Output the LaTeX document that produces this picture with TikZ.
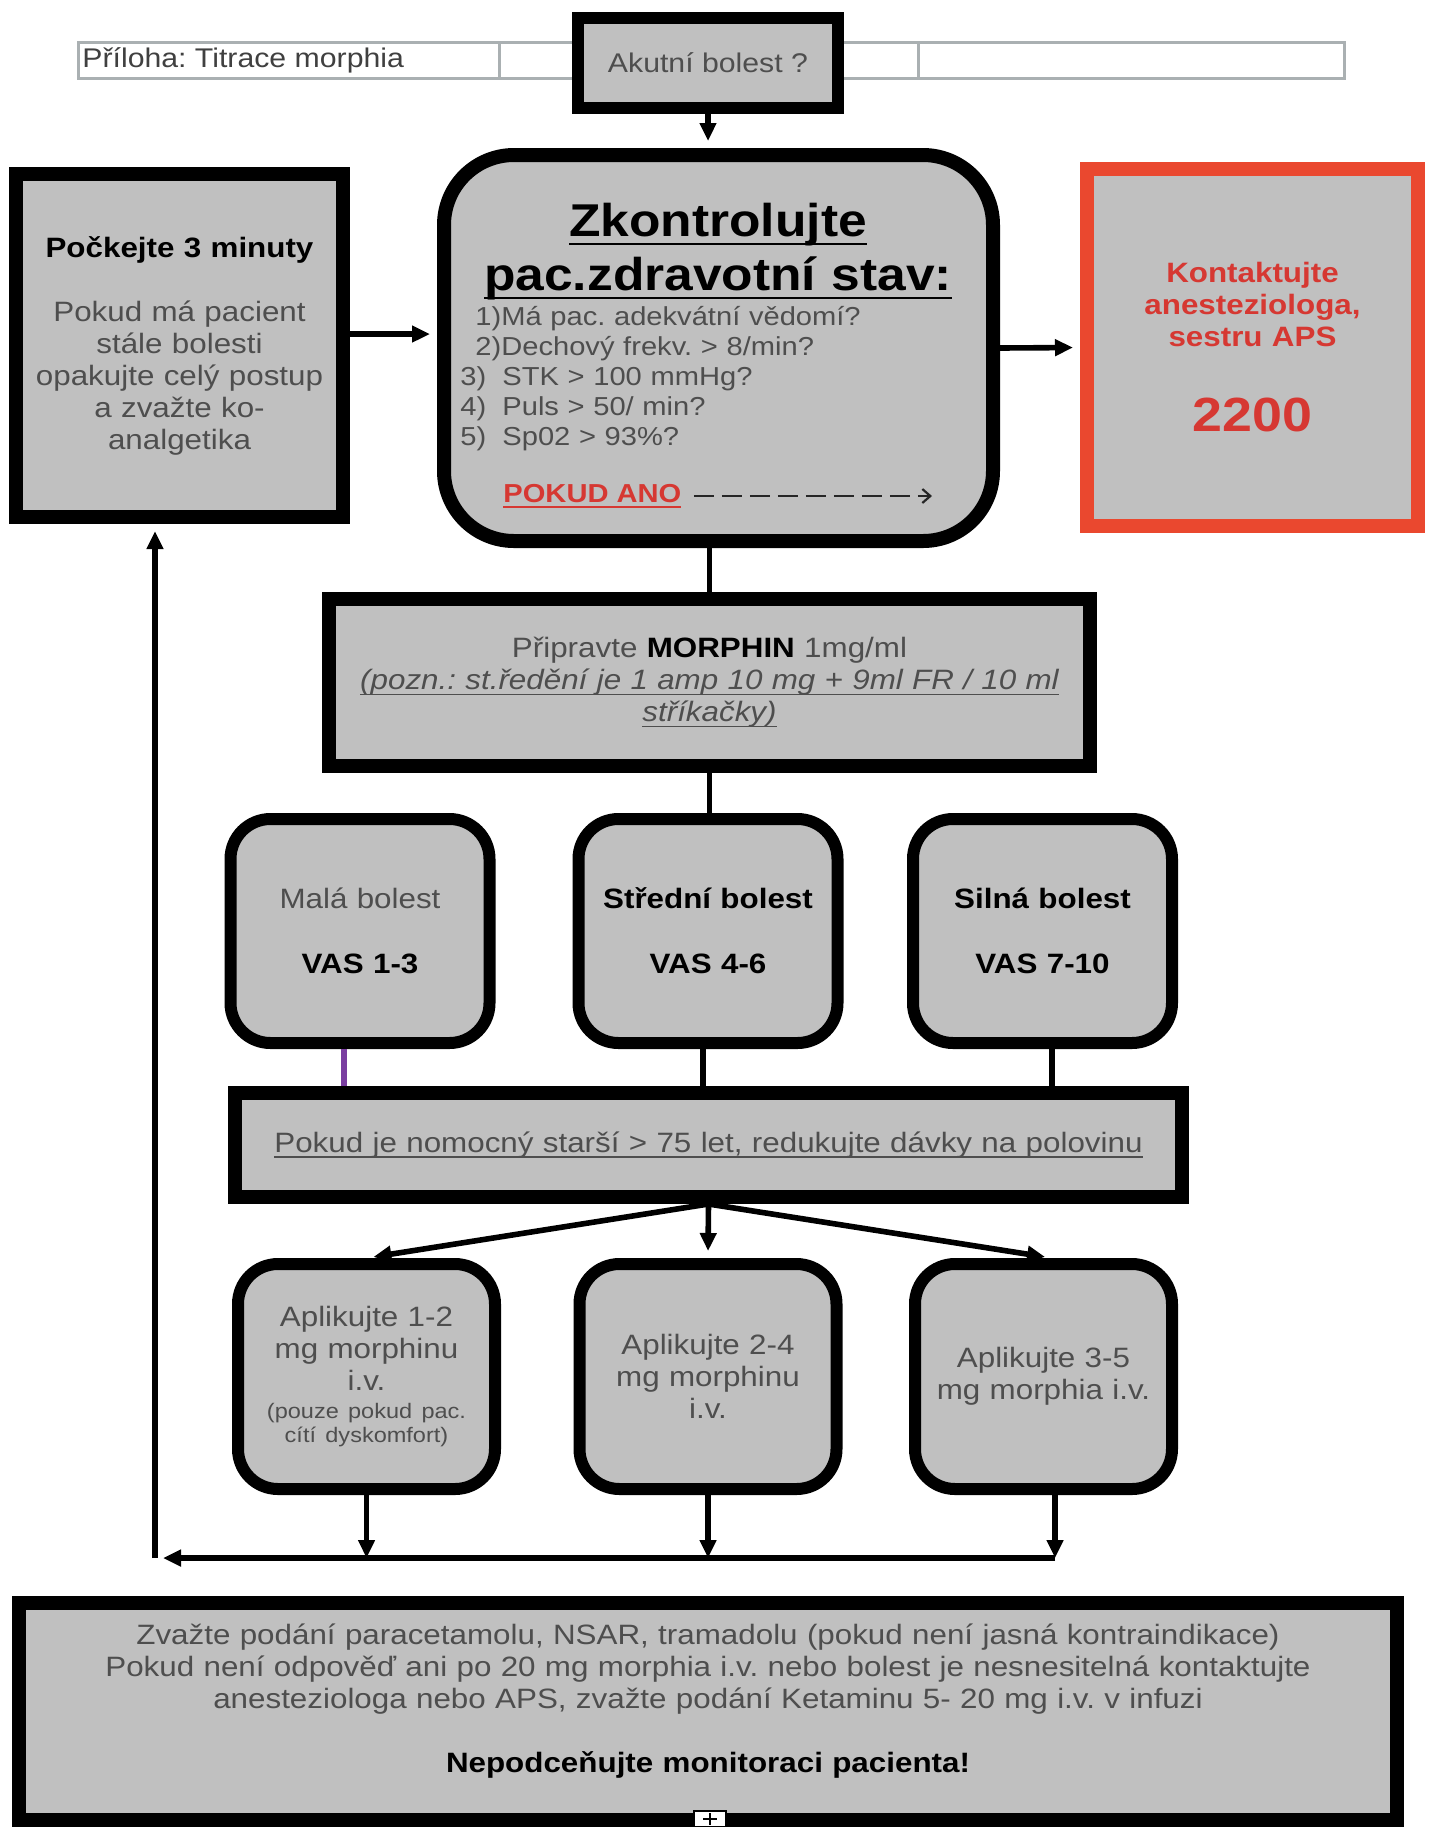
\documentclass[tikz,border=0pt]{standalone}
\usepackage{fontspec}
\setmainfont{Liberation Sans}[FakeStretch=1.12]
\usepackage{tikz}
\usetikzlibrary{positioning, arrows.meta, calc}
\definecolor{boxgray}{RGB}{192,192,192}
\definecolor{txtgray}{RGB}{78,78,78}
\definecolor{alertred}{RGB}{234,72,47}
\definecolor{alerttxt}{RGB}{214,56,50}
\definecolor{tblgray}{RGB}{170,176,178}
\definecolor{lilac}{RGB}{122,62,160}
\frenchspacing
\newdimen\uldepth \uldepth=2pt
\newdimen\ulthick \ulthick=0.8pt
\newcommand{\uln}[1]{\leavevmode\setbox0=\hbox{#1}\rlap{\rule[-\dimexpr\uldepth+\ulthick\relax]{\wd0}{\ulthick}}\box0}
\newcommand{\normtxt}{\frenchspacing\fontsize{14}{16}\selectfont}
\newcommand{\smalltxt}{\fontsize{10.5}{12}\selectfont}
\newcommand{\listtxt}{\frenchspacing\fontsize{13}{15}\selectfont}
\newcommand{\headtxt}{\fontsize{23}{27}\selectfont\bfseries}
\newcommand{\bigtxt}{\fontsize{24}{28}\selectfont\bfseries}
\newcommand{\bblack}[1]{\textcolor{black}{\bfseries #1}}

\begin{document}
\begin{tikzpicture}[x=0.5pt, y=-0.5pt,
    box/.style={draw, fill=boxgray, line width=7pt, inner sep=0pt, align=center, text=txtgray, font=\normtxt},
    roundbox/.style={box, rounded corners=20pt, line width=6pt},
    arr/.style={line width=2.8pt, -{Triangle[length=9pt,width=8pt]}},
    link/.style={line width=2.8pt}]
    \useasboundingbox (0,0) rectangle (1431,1827);

    % Header table
    \draw[tblgray, line width=1.5pt] (78,42) rectangle (1344,78) (499,42) -- (499,78) (918,42) -- (918,78);
    \node[anchor=west, inner sep=0pt, text=black!75, font=\frenchspacing\fontsize{13.5}{16}\selectfont] (hdr) at (82,60) {Příloha: Titrace morphia};

    % Top row
    \node[box, line width=6pt, minimum width=130pt, minimum height=45pt, font=\fontsize{13.5}{16}\selectfont] (akut) at (708,63) {Akutní bolest ?};
    \node[box, minimum width=163.5pt, minimum height=171.5pt, text width=150pt] (wait) at (179.5,345.5)
        {\bblack{Počkejte 3 minuty}\\[16pt] Pokud má pacient\\ stále bolesti\\ opakujte celý postup\\ a zvažte ko-\\ analgetika};
    \node[box, rounded corners=35pt, minimum width=274.5pt, minimum height=193pt] (chk) at (718.5,348) {};
    \node[box, draw=alertred, text=alerttxt, minimum width=165.5pt, minimum height=178.5pt, text width=155pt] (aps) at (1252.5,347.5)
        {\bfseries Kontaktujte\\ anesteziologa,\\ sestru APS\par\vspace{14.5pt}{\bigtxt 2200\par}};

    % Check list inside the rounded box
    \node[anchor=north, inner sep=0pt, text width=270pt, align=center, text=black, font=\headtxt] (chkTitle) at (718,203)
        {\uldepth=3pt\ulthick=1.3pt\uln{Zkontrolujte}\\ \uln{pac.zdravotní stav:}};
    \node[anchor=north west, inner sep=0pt, text width=250pt, align=left, text=txtgray, font=\listtxt] (chkList) at (460,306)
        {\hspace*{7.5pt}1)Má pac. adekvátní vědomí?\\
         \hspace*{7.5pt}2)Dechový frekv. > 8/min?\\
         \makebox[21pt][l]{3)}STK > 100 mmHg?\\
         \makebox[21pt][l]{4)}Puls > 50/ min?\\
         \makebox[21pt][l]{5)}Sp02 > 93\%?};
    \node[anchor=west, inner sep=0pt, text=alerttxt, font=\listtxt\bfseries] (yes) at (503,496) {\uln{POKUD ANO}};
    \coordinate (yesTip) at (932,496);

    % Middle part
    \node[box, minimum width=380.5pt, minimum height=83.5pt, text width=370pt] (morph) at (709.5,682.5)
        {Připravte \bblack{MORPHIN} 1mg/ml\\ \itshape\uln{(pozn.: st.ředění je 1 amp 10 mg + 9ml FR / 10 ml}\\ \uln{stříkačky)}};
    \node[roundbox, minimum width=129.5pt, minimum height=112pt, text width=125pt] (pain1) at (360,931) {Malá bolest\\[16.5pt] \bblack{VAS 1-3}};
    \node[roundbox, minimum width=129.5pt, minimum height=112pt, text width=125pt] (pain2) at (708,931) {\bblack{Střední bolest}\\[16.5pt] \bblack{VAS 4-6}};
    \node[roundbox, minimum width=129.5pt, minimum height=112pt, text width=125pt] (pain3) at (1042.5,931) {\bblack{Silná bolest}\\[16.5pt] \bblack{VAS 7-10}};
    \node[box, minimum width=473.5pt, minimum height=52pt, text width=465pt] (cut) at (708.5,1145)
        {\uln{Pokud je nomocný starší > 75 let, redukujte dávky na polovinu}};

    % Doses
    \node[roundbox, minimum width=128.5pt, minimum height=112.5pt, text width=120pt] (dose1) at (366.5,1376.5)
        {Aplikujte 1-2\\ mg morphinu\\ i.v.\par\vspace{2pt}{\smalltxt (pouze pokud pac.\\ cítí dyskomfort)\par}};
    \node[roundbox, minimum width=128.5pt, minimum height=112.5pt, text width=120pt] (dose2) at (708,1376.5) {Aplikujte 2-4\\ mg morphinu\\ i.v.};
    \node[roundbox, minimum width=128.5pt, minimum height=112.5pt, text width=120pt] (dose3) at (1043.5,1376.5) {Aplikujte 3-5\\ mg morphia i.v.};

    % Bottom note
    \node[box, minimum width=689pt, minimum height=108.5pt, text width=680pt] (final) at (708,1711.5)
        {Zvažte podání paracetamolu, NSAR, tramadolu (pokud není jasná kontraindikace)\\
         Pokud není odpověď ani po 20 mg morphia i.v. nebo bolest je nesnesitelná kontaktujte\\
         anesteziologa nebo APS, zvažte podání Ketaminu 5- 20 mg i.v. v infuzi\\[16pt]
         \bblack{Nepodceňujte monitoraci pacienta!}\par\vspace{10pt}};
    \draw[fill=white, line width=1pt] (694,1811) rectangle (726,1827);
    \draw[line width=1pt] (710,1813) -- (710,1825) (703,1819) -- (717,1819);

    % Connections
    \coordinate (waitOut) at ([yshift=5.75pt]wait.east);
    \coordinate (loopC) at (155,1558);
    \draw[arr, shorten >=3.5pt] (akut.south) -- (akut.south |- chk.north);
    \draw[arr, shorten >=3.5pt] (waitOut) -- (waitOut -| chk.west);
    \draw[arr, shorten >=3.5pt] (chk.east) -- (aps.west);
    \draw[line width=1.1pt, black!85, dash pattern=on 10pt off 4pt, -{Straight Barb[length=4pt,width=7pt]}] ([xshift=6pt]yes.east) -- (yesTip);
    \draw[link] (chk.south -| morph.north) -- (morph.north);
    \draw[link] (morph.south) -- (morph.south |- pain2.north);
    \draw[link, lilac] ([xshift=-8pt]pain1.south) -- ([xshift=-8pt]pain1.south |- cut.north);
    \draw[link] ([xshift=-2.5pt]pain2.south) -- ([xshift=-2.5pt]pain2.south |- cut.north);
    \draw[link] ([xshift=4.75pt]pain3.south) -- ([xshift=4.75pt]pain3.south |- cut.north);
    \draw[arr, shorten >=3.5pt] (cut.south) -- (dose1.north);
    \draw[arr, shorten >=3.5pt] (cut.south) -- (dose2.north);
    \draw[arr, shorten >=3.5pt] (cut.south) -- ([xshift=4.25pt]dose3.north);
    \draw[arr] (dose1.south) -- (dose1.south |- loopC);
    \draw[arr] (dose2.south) -- (dose2.south |- loopC);
    \draw[arr] ([xshift=5.75pt]dose3.south) -- ([xshift=5.75pt]dose3.south |- loopC);
    \draw[arr] ([xshift=5.75pt]dose3.south |- loopC) -- ([xshift=4pt]loopC);
    \draw[arr, shorten >=3.5pt] (loopC) -- (loopC |- wait.south);
\end{tikzpicture}
\end{document}
